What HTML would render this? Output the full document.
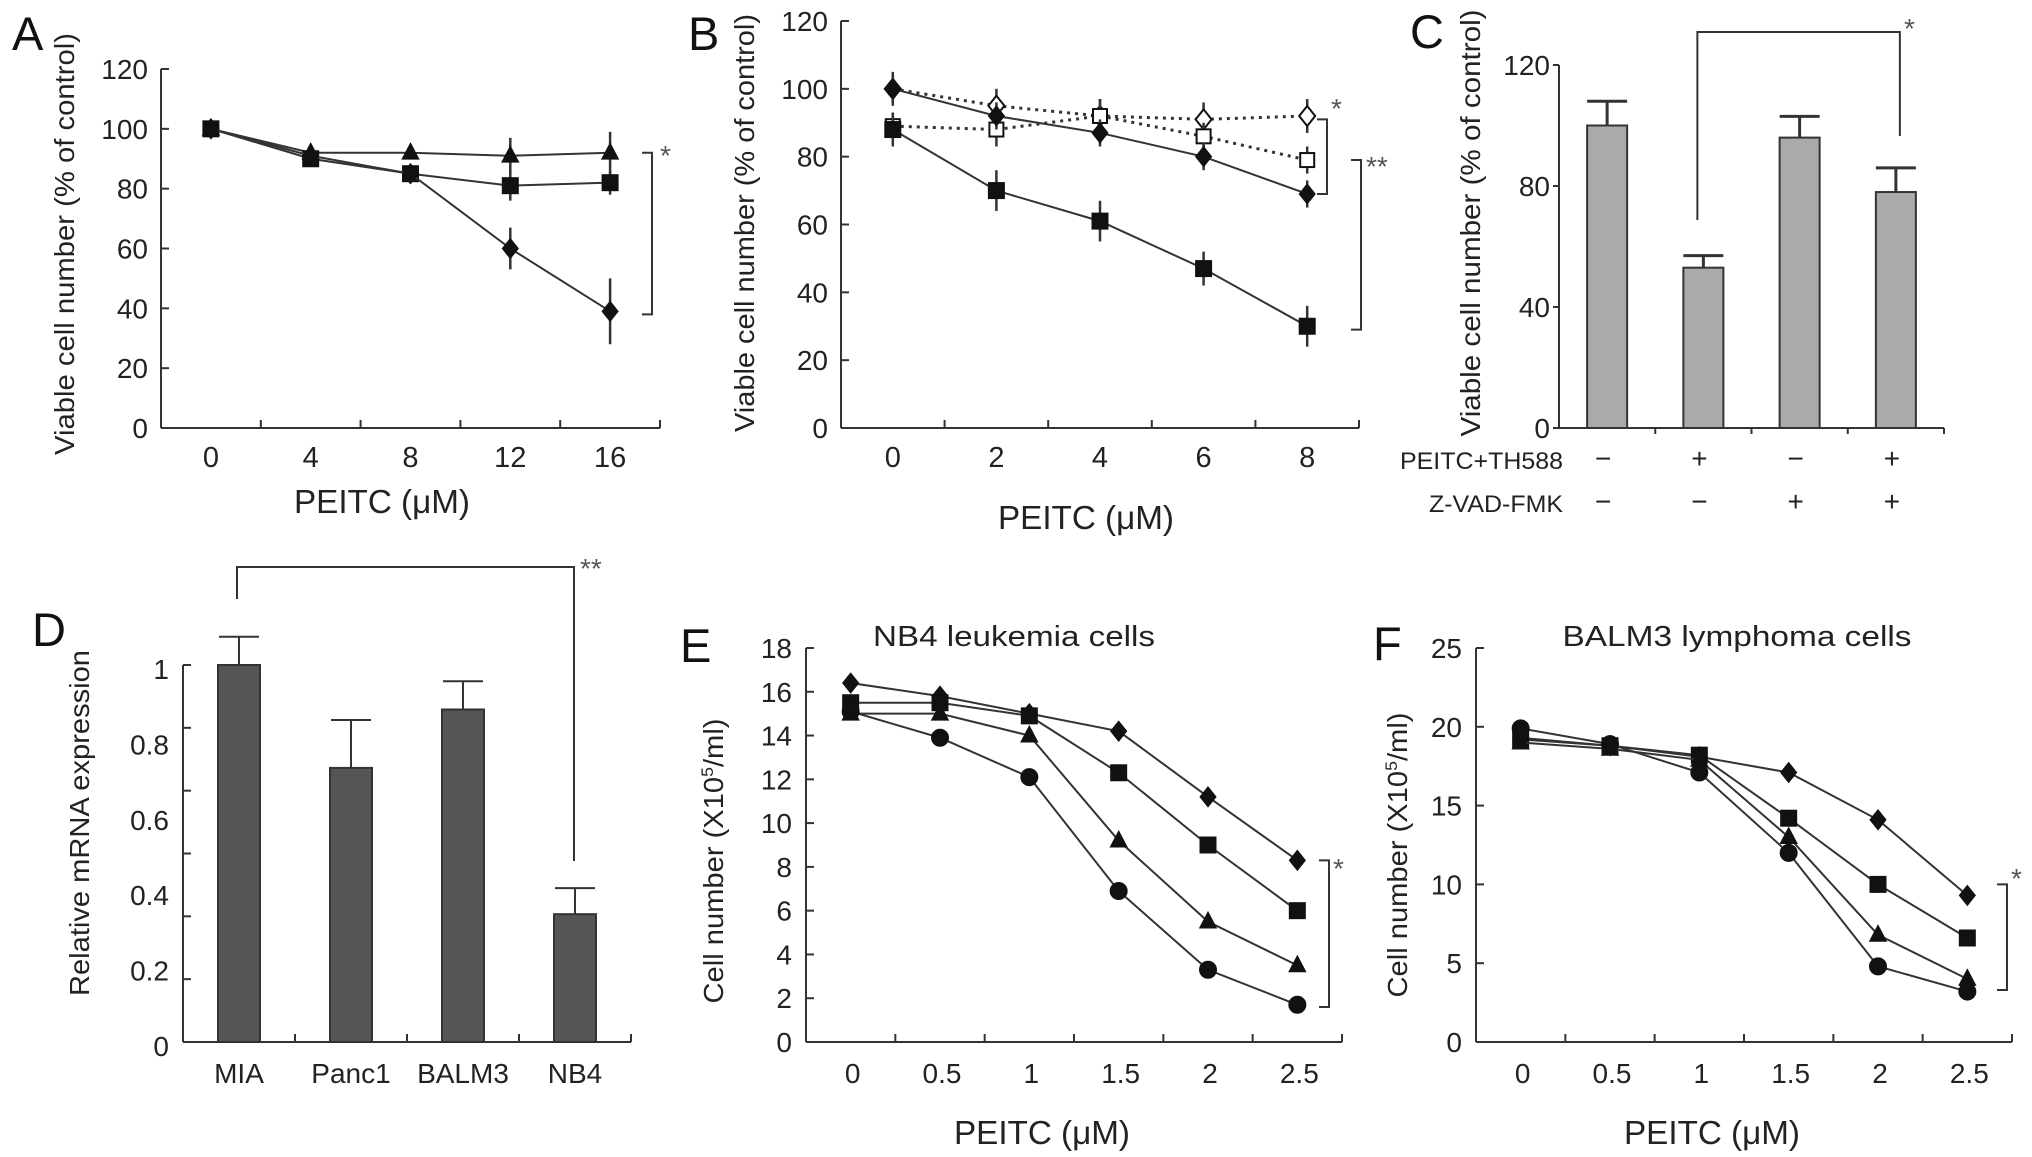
<!DOCTYPE html>
<html><head><meta charset="utf-8">
<style>
html,body{margin:0;padding:0;background:#fff;}
svg{display:block;font-family:"Liberation Sans",Arial,sans-serif;}
</style></head>
<body>
<svg id="fig" width="2032" height="1157" viewBox="0 0 2032 1157" xmlns="http://www.w3.org/2000/svg"></svg>
<script>
// ---------- Panel A data ----------
const aX = [0, 4, 8, 12, 16];
const aTicks = [0, 20, 40, 60, 80, 100, 120];
const aTriangle = [100, 92, 92, 91, 92];
const aTriangleErr = [0, 0, 0, 6, 7];
const aSquare = [100, 90, 85, 81, 82];
const aSquareErr = [0, 0, 0, 5, 4];
const aDiamond = [100, 91, 85, 60, 39];
const aDiamondErr = [0, 0, 0, 7, 11];
// ---------- Panel B data ----------
const bX = [0, 2, 4, 6, 8];
const bTicks = [0, 20, 40, 60, 80, 100, 120];
const bDiamond = [100, 92, 87, 80, 69];
const bDiamondErr = [5, 4, 4, 4, 4];
const bSquare = [88, 70, 61, 47, 30];
const bSquareErr = [5, 6, 6, 5, 6];
const bOpenDiamond = [100, 95, 92, 91, 92];
const bOpenDiamondErr = [4, 5, 5, 5, 5];
const bOpenSquare = [89, 88, 92, 86, 79];
const bOpenSquareErr = [4, 5, 5, 4, 4];
// ---------- Panel C data ----------
const cValues = [100, 53, 96, 78];
const cErrors = [8, 4, 7, 8];
const cTicks = [0, 40, 80, 120];
const cRow1 = ['−', '+', '−', '+'];
const cRow2 = ['−', '−', '+', '+'];
// ---------- Panel D data ----------
const dCategories = ['MIA', 'Panc1', 'BALM3', 'NB4'];
const dValues = [1.0, 0.727, 0.882, 0.339];
const dErrors = [0.075, 0.127, 0.075, 0.069];
const dTickLabels = ['0', '0.2', '0.4', '0.6', '0.8', '1'];
const dTickValues = [0, 0.2, 0.4, 0.6, 0.8, 1];
// ---------- Panel E data ----------
const eX = ['0', '0.5', '1', '1.5', '2', '2.5'];
const eTicks = [0, 2, 4, 6, 8, 10, 12, 14, 16, 18];
const eDiamond = [16.4, 15.8, 15.0, 14.2, 11.2, 8.3];
const eSquare = [15.5, 15.5, 14.9, 12.3, 9.0, 6.0];
const eTriangle = [15.0, 15.0, 14.0, 9.2, 5.5, 3.5];
const eCircle = [15.1, 13.9, 12.1, 6.9, 3.3, 1.7];
// ---------- Panel F data ----------
const fX = ['0', '0.5', '1', '1.5', '2', '2.5'];
const fTicks = [0, 5, 10, 15, 20, 25];
const fDiamond = [19.3, 18.8, 18.1, 17.1, 14.1, 9.3];
const fSquare = [19.2, 18.8, 18.2, 14.2, 10.0, 6.6];
const fTriangle = [19.0, 18.6, 17.9, 13.0, 6.8, 4.0];
const fCircle = [19.9, 18.9, 17.1, 12.0, 4.8, 3.2];

const NS = 'http://www.w3.org/2000/svg';
const svg = document.getElementById('fig');
const TICK = 28;
function mk(tag, attrs, parent) {
  const e = document.createElementNS(NS, tag);
  for (const k in attrs) e.setAttribute(k, attrs[k]);
  (parent || svg).appendChild(e);
  return e;
}
function grp(name) {
  const g = mk('g', {});
  
  
  return g;
}
function txt(g, s, x, y, size, anchor, name, extra) {
  const t = mk('text', Object.assign({x: x, y: y, 'font-size': size, 'text-anchor': anchor || 'middle', fill: '#222'}, extra || {}), g);
  t.textContent = s;
  
  
  return t;
}
function line(g, x1, y1, x2, y2, w, extra) {
  return mk('line', Object.assign({x1: x1, y1: y1, x2: x2, y2: y2, stroke: '#333', 'stroke-width': w || 2}, extra || {}), g);
}
function ylabel(g, s, cx, cy, len, size) {
  const t = mk('text', {x: 0, y: 0, 'font-size': size || 28, 'text-anchor': 'middle', fill: '#222',
    transform: 'translate(' + cx + ',' + cy + ') rotate(-90)', textLength: len, lengthAdjust: 'spacingAndGlyphs'}, g);
  t.textContent = s;
  
  
  return t;
}
function xtitle(g, x, y) {
  txt(g, 'PEITC (μM)', x, y, 33, 'middle', 'x-axis-title', {textLength: 176, lengthAdjust: 'spacingAndGlyphs'});
}
function marker(g, type, x, y, r, open) {
  const fill = open ? '#fff' : '#111';
  const sw = open ? 2 : 1;
  let e;
  if (type === 'square') e = mk('rect', {x: x - r, y: y - r, width: 2 * r, height: 2 * r, fill: fill, stroke: '#111', 'stroke-width': sw}, g);
  else if (type === 'diamond') e = mk('polygon', {points: [x, y - r * 1.25, x + r, y, x, y + r * 1.25, x - r, y].join(','), fill: fill, stroke: '#111', 'stroke-width': sw}, g);
  else if (type === 'triangle') e = mk('polygon', {points: [x, y - r * 1.2, x + r * 1.05, y + r * 0.8, x - r * 1.05, y + r * 0.8].join(','), fill: fill, stroke: '#111', 'stroke-width': sw}, g);
  else e = mk('circle', {cx: x, cy: y, r: r, fill: fill, stroke: '#111', 'stroke-width': sw}, g);
  
  
  return e;
}
function series(g, name, xs, ys, err, type, X, Y, open, dashed, r) {
  const sg = mk('g', {}, g);
  
  
  const pts = ys.map((v, i) => X(xs[i], i) + ',' + Y(v)).join(' ');
  mk('polyline', {points: pts, fill: 'none', stroke: '#333', 'stroke-width': dashed ? 3 : 2, 'stroke-dasharray': dashed ? '3,5' : 'none'}, sg);
  if (err) ys.forEach((v, i) => { if (err[i] > 0) line(sg, X(xs[i], i), Y(v + err[i]), X(xs[i], i), Y(v - err[i]), 2.5); });
  ys.forEach((v, i) => marker(sg, type, X(xs[i], i), Y(v), r || 8, open));
}
function bracket(g, x, y1, y2, star, sx, sy, name) {
  const b = mk('polyline', {points: (x - 10) + ',' + y1 + ' ' + x + ',' + y1 + ' ' + x + ',' + y2 + ' ' + (x - 10) + ',' + y2, fill: 'none', stroke: '#333', 'stroke-width': 2}, g);
  
  
  txt(g, star, sx, sy, 28, 'start', 'significance-star', {fill: '#555'});
}
function letter(s, x, y) {
  const g = grp('panel-label-' + s);
  txt(g, s, x, y, 47, 'start', 'panel-letter', {fill: '#111'});
}

// ================= Panel A =================
(function () {
  const g = grp('panel-a');
  const x0 = 161, x1 = 660, y0 = 428, yTop = 69;
  const X = v => x0 + (v + 2) * (x1 - x0) / 20;
  const Y = v => y0 - v * (y0 - yTop) / 120;
  line(g, x0, Y(120), x0, y0);
  line(g, x0, y0, x1, y0);
  aTicks.forEach(t => { line(g, x0, Y(t), x0 + 8, Y(t)); txt(g, String(t), x0 - 13, Y(t) + 10, TICK, 'end', 'y-tick-label'); });
  [2, 6, 10, 14, 18].forEach(t => line(g, X(t), y0, X(t), y0 - 8));
  aX.forEach(t => txt(g, String(t), X(t), 467, 29, 'middle', 'x-tick-label'));
  ylabel(g, 'Viable cell number (% of control)', 74, 244, 422);
  xtitle(g, 382, 513);
  series(g, 'series-triangle', aX, aTriangle, aTriangleErr, 'triangle', X, Y);
  series(g, 'series-square', aX, aSquare, aSquareErr, 'square', X, Y);
  series(g, 'series-diamond', aX, aDiamond, aDiamondErr, 'diamond', X, Y);
  bracket(g, 652, Y(92), Y(38), '*', 660, 165, 'significance-bracket');
})();
letter('A', 12, 50);

// ================= Panel B =================
(function () {
  const g = grp('panel-b');
  const x0 = 841, x1 = 1359, y0 = 428, yTop = 21;
  const X = v => x0 + (v + 1) * (x1 - x0) / 10;
  const Y = v => y0 - v * (y0 - yTop) / 120;
  line(g, x0, Y(120), x0, y0);
  line(g, x0, y0, x1, y0);
  bTicks.forEach(t => { line(g, x0, Y(t), x0 + 8, Y(t)); txt(g, String(t), x0 - 13, Y(t) + 10, TICK, 'end', 'y-tick-label'); });
  [1, 3, 5, 7, 9].forEach(t => line(g, X(t), y0, X(t), y0 - 8));
  bX.forEach(t => txt(g, String(t), X(t), 467, 29, 'middle', 'x-tick-label'));
  ylabel(g, 'Viable cell number (% of control)', 754, 223, 418);
  xtitle(g, 1086, 529);
  series(g, 'series-open-diamond', bX, bOpenDiamond, bOpenDiamondErr, 'diamond', X, Y, true, true);
  series(g, 'series-open-square', bX, bOpenSquare, bOpenSquareErr, 'square', X, Y, true, true, 7);
  series(g, 'series-filled-diamond', bX, bDiamond, bDiamondErr, 'diamond', X, Y);
  series(g, 'series-filled-square', bX, bSquare, bSquareErr, 'square', X, Y);
  bracket(g, 1327, Y(91), Y(69), '*', 1331, 118, 'significance-bracket-1');
  bracket(g, 1361, Y(79), Y(29), '**', 1366, 176, 'significance-bracket-2');
})();
letter('B', 688, 50);

// ================= Panel C =================
(function () {
  const g = grp('panel-c');
  const x0 = 1559, x1 = 1944, y0 = 428, yTop = 65;
  const step = (x1 - x0) / 4;
  const X = i => x0 + step * (i + 0.5);
  const Y = v => y0 - v * (y0 - yTop) / 120;
  cValues.forEach((v, i) => {
    const r = mk('rect', {x: X(i) - 20, y: Y(v), width: 40, height: y0 - Y(v), fill: '#aaaaaa', stroke: '#333', 'stroke-width': 2}, g);
    
    
    line(g, X(i), Y(v), X(i), Y(v + cErrors[i]), 3);
    line(g, X(i) - 20, Y(v + cErrors[i]), X(i) + 20, Y(v + cErrors[i]), 3);
    txt(g, cRow1[i], X(i) - 4, 468, 28, 'middle', 'peitc-th588-sign');
    txt(g, cRow2[i], X(i) - 4, 511, 28, 'middle', 'zvad-fmk-sign');
  });
  line(g, x0, Y(120), x0, y0);
  line(g, x0 - 6, y0, x1, y0);
  cTicks.forEach(t => { line(g, x0 - 6, Y(t), x0, Y(t)); txt(g, String(t), x0 - 9, Y(t) + 10, TICK, 'end', 'y-tick-label'); });
  [1, 2, 3, 4].forEach(k => line(g, x0 + k * step, y0, x0 + k * step, y0 + 6));
  ylabel(g, 'Viable cell number (% of control)', 1480, 223, 427);
  txt(g, 'PEITC+TH588', 1563, 469, 24, 'end', 'row-label-peitc-th588', {textLength: 163, lengthAdjust: 'spacingAndGlyphs'});
  txt(g, 'Z-VAD-FMK', 1563, 512, 24, 'end', 'row-label-zvad-fmk', {textLength: 134, lengthAdjust: 'spacingAndGlyphs'});
  const b = mk('polyline', {points: X(1) - 6 + ',220 ' + (X(1) - 6) + ',32 ' + (X(3) + 4) + ',32 ' + (X(3) + 4) + ',136', fill: 'none', stroke: '#333', 'stroke-width': 2}, g);
  
  
  txt(g, '*', 1904, 38, 28, 'start', 'significance-star', {fill: '#555'});
})();
letter('C', 1410, 48);

// ================= Panel D =================
(function () {
  const g = grp('panel-d');
  const x0 = 183, x1 = 631, y0 = 1042, yTop = 665;
  const step = (x1 - x0) / 4;
  const X = i => x0 + step * (i + 0.5);
  const Y = v => y0 - v * (y0 - yTop);
  dValues.forEach((v, i) => {
    const r = mk('rect', {x: X(i) - 21, y: Y(v), width: 42, height: y0 - Y(v), fill: '#555', stroke: '#333', 'stroke-width': 2}, g);
    
    
    line(g, X(i), Y(v), X(i), Y(v + dErrors[i]), 2);
    line(g, X(i) - 20, Y(v + dErrors[i]), X(i) + 20, Y(v + dErrors[i]), 2);
    txt(g, dCategories[i], X(i), 1083, 28, 'middle', 'x-tick-label');
  });
  line(g, x0, Y(1), x0, y0);
  line(g, x0, y0, x1, y0);
  for (let k = 0; k <= 6; k++) line(g, x0, Y(k / 6), x0 + 8, Y(k / 6));
  [1, 2, 3, 4].forEach(k => line(g, x0 + k * step, y0, x0 + k * step, y0 - 8));
  dTickValues.forEach((v, i) => txt(g, dTickLabels[i], x0 - 14, Y(v) + 14, TICK, 'end', 'y-tick-label'));
  ylabel(g, 'Relative mRNA expression', 89, 823, 346);
  const b = mk('polyline', {points: X(0) - 2 + ',599 ' + (X(0) - 2) + ',567 ' + (X(3) - 1) + ',567 ' + (X(3) - 1) + ',861', fill: 'none', stroke: '#333', 'stroke-width': 2}, g);
  
  
  txt(g, '**', 580, 578, 28, 'start', 'significance-star', {fill: '#555'});
})();
letter('D', 32, 646);

// ================= Panels E & F (shared) =================
function curvePanel(name, ox, yTopVal, ticks, xs, sets, title, titleX, titleLen, ylabX, ylabCy, brk) {
  const g = grp(name);
  const x0 = ox, x1 = ox + 536, y0 = 1042, yTop = 648;
  const step = (x1 - x0) / 6;
  const X = (v, i) => x0 + step * (i + 0.5);
  const Y = v => y0 - v * (y0 - yTop) / yTopVal;
  line(g, x0, yTop, x0, y0);
  line(g, x0, y0, x1, y0);
  ticks.forEach(t => { line(g, x0, Y(t), x0 + 8, Y(t)); txt(g, String(t), x0 - 14, Y(t) + 10, TICK, 'end', 'y-tick-label'); });
  for (let k = 1; k <= 6; k++) line(g, x0 + k * step, y0, x0 + k * step, y0 - 8);
  xs.forEach((t, i) => txt(g, t, X(0, i) + 2, 1083, TICK, 'middle', 'x-tick-label'));
  const yl = mk('text', {x: 0, y: 0, 'font-size': 28, 'text-anchor': 'middle', fill: '#222', transform: 'translate(' + ylabX + ',' + ylabCy + ') rotate(-90)', textLength: 285, lengthAdjust: 'spacingAndGlyphs'}, g);
  
  
  yl.appendChild(document.createTextNode('Cell number (X10'));
  const sup = mk('tspan', {dy: -10, 'font-size': 17}, yl); sup.textContent = '5';
  const rest = mk('tspan', {dy: 10}, yl); rest.textContent = '/ml)';
  txt(g, title, titleX, 646, 29, 'middle', 'chart-title', {textLength: titleLen, lengthAdjust: 'spacingAndGlyphs'});
  xtitle(g, x0 + 236, 1144);
  sets.forEach(s => series(g, 'series-' + s[1], xs, s[0], null, s[1], X, Y, false, false, s[1] === 'circle' ? 8.5 : 8));
  bracket(g, brk[0], Y(brk[1]), Y(brk[2]), '*', brk[0] + 4, brk[3], 'significance-bracket');
}
curvePanel('panel-e', 806, 18, eTicks, eX,
  [[eDiamond, 'diamond'], [eSquare, 'square'], [eTriangle, 'triangle'], [eCircle, 'circle']],
  'NB4 leukemia cells', 1014, 282, 723, 861, [1329, 8.3, 1.6, 878]);
curvePanel('panel-f', 1476, 25, fTicks, fX,
  [[fDiamond, 'diamond'], [fSquare, 'square'], [fTriangle, 'triangle'], [fCircle, 'circle']],
  'BALM3 lymphoma cells', 1737, 349, 1407, 855, [2007, 10, 3.3, 888]);
letter('E', 680, 662);
letter('F', 1373, 660);
</script>
</body></html>
